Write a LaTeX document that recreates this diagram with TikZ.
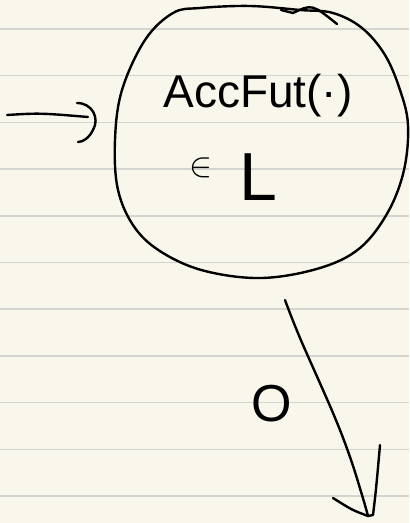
\documentclass[tikz,border=0pt]{standalone}
\usepackage{fontspec}
\setmainfont{Liberation Sans}
\usetikzlibrary{positioning,calc}
\definecolor{paper}{RGB}{249,247,236}
\definecolor{ruling}{RGB}{212,212,208}
\begin{document}
\begin{tikzpicture}[x=0.5pt,y=-0.5pt]
        \tikzset{
            pen/.style={black, line width=1.2pt, line cap=round, line join=round},
            rulingline/.style={ruling, line width=0.8pt},
            hand/.style={inner sep=0pt, text=black}
        }
        % paper and ruled lines
        \fill[paper] (0,0) rectangle (409,523);
        \useasboundingbox (0,0) rectangle (409,523);
        \foreach \i in {0,...,10}
            \draw[rulingline] (0,{29+46.7*\i}) -- (409,{29+46.7*\i});
        % the state
        \draw[pen] plot[smooth cycle, tension=0.6] coordinates {
            (173,13) (200,8) (250,6) (300,10) (333,13) (362,28) (385,55)
            (400,90) (408,125) (404,170) (388,212) (360,248) (320,268)
            (262,278) (205,271) (163,253) (135,228) (118,190) (115,140)
            (122,90) (145,40)};
        \draw[pen] (281,10) -- (293,13) .. controls (312,4) .. (337,24);
        \node[hand, font=\fontsize{23}{23}\selectfont] (accfut) at (258,96) {AccFut(·)};
        \node[hand, font=\fontsize{34}{34}\selectfont] (lang) at (258,177) {L};
        \node[hand, font=\fontsize{16}{16}\selectfont] (eqsym) at (201,168) {$\in$};
        % incoming arrow
        \coordinate (inS) at (7,115);
        \coordinate (inE) at (88,117);
        \draw[pen] (inS) .. controls (40,113) .. (inE);
        \draw[pen] (77,103) .. controls (92,103) and (100,118) .. (93,130)
            .. controls (89,138) and (83,142) .. (78,142);
        % outgoing arrow
        \coordinate (outS) at (285,300);
        \coordinate (outE) at (368,516);
        \draw[pen] plot[smooth, tension=0.6] coordinates {
            (outS) (300,338) (333,413) (350,457) (362,495) (outE)};
        \draw[pen] (333,498) .. controls (352,510) .. (outE)
            -- (373,515) .. controls (376,490) .. (380,445);
        \node[hand, font=\fontsize{26}{26}\selectfont] (outlab) at (272,404) {O};
    \end{tikzpicture}
\end{document}
